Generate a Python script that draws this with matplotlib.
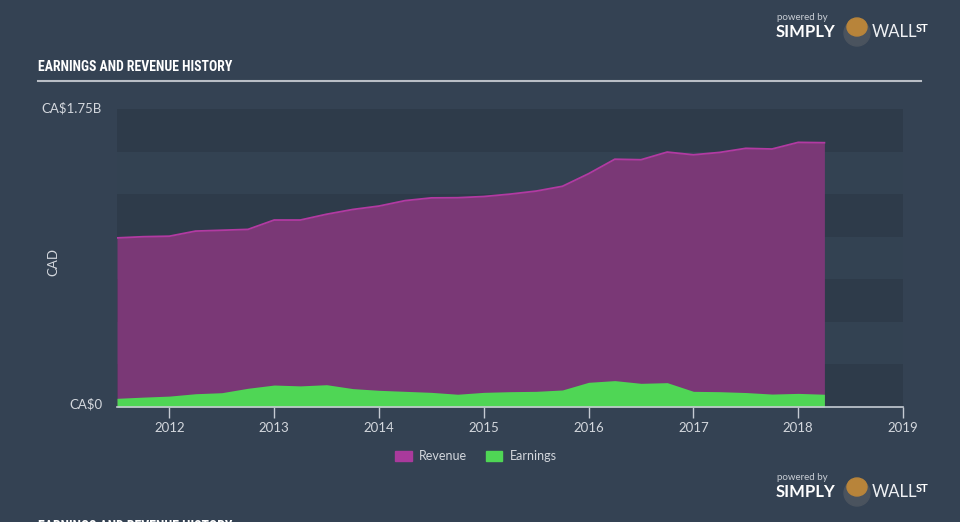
import matplotlib.pyplot as plt
import matplotlib.patches as mpatches
from matplotlib import font_manager as fm
import numpy as np

# quarterly data (fiscal year as decimal), values in CA$ billions
dates = [2011.5, 2011.75, 2012.0, 2012.25, 2012.5, 2012.75, 2013.0, 2013.25,
         2013.5, 2013.75, 2014.0, 2014.25, 2014.5, 2014.75, 2015.0, 2015.25,
         2015.5, 2015.75, 2016.0, 2016.25, 2016.5, 2016.75, 2017.0, 2017.25,
         2017.5, 2017.75, 2018.0, 2018.25]
revenue = [0.993, 1.000, 1.003, 1.033, 1.038, 1.043, 1.098, 1.098,
           1.132, 1.160, 1.180, 1.212, 1.228, 1.229, 1.236, 1.250,
           1.268, 1.296, 1.370, 1.455, 1.452, 1.497, 1.481, 1.495,
           1.519, 1.515, 1.554, 1.552]
earnings = [0.051, 0.058, 0.064, 0.078, 0.084, 0.110, 0.129, 0.124,
            0.131, 0.108, 0.098, 0.092, 0.086, 0.075, 0.086, 0.090,
            0.092, 0.100, 0.145, 0.155, 0.139, 0.143, 0.092, 0.090,
            0.085, 0.076, 0.080, 0.075]
years = [2012, 2013, 2014, 2015, 2016, 2017, 2018, 2019]
title = 'EARNINGS AND REVENUE HISTORY'

bg = '#344253'
txt = '#d3d7dd'
rev_fill = '#7a3876'
rev_line = '#b23aa2'
earn_col = '#4fd655'

# pick a narrow font for the title if one is installed
names = {f.name for f in fm.fontManager.ttflist}
title_family = 'DejaVu Sans'
for cand in ['Liberation Sans Narrow', 'Roboto Condensed', 'Open Sans Condensed']:
    if cand in names:
        title_family = cand
        break

fig = plt.figure(figsize=(9.6, 5.22), dpi=100)
fig.patch.set_facecolor(bg)

ax = fig.add_axes([117/960, 1 - 407/522, (903-117)/960, (407-109)/522])
ax.set_facecolor(bg)
ax.set_xlim(2011.5, 2019.0)
ax.set_ylim(0, 1.75)

# striped background bands
for i in range(7):
    c = '#2e3b4a' if i % 2 == 0 else '#334252'
    ax.axhspan(i*0.25, (i+1)*0.25, color=c, lw=0, zorder=0)

ax.fill_between(dates, revenue, color=rev_fill, lw=0, zorder=2)
ax.plot(dates, revenue, color=rev_line, lw=1.3, zorder=3)
ax.fill_between(dates, earnings, color=earn_col, lw=0, zorder=4)

for s in ['top', 'right', 'left']:
    ax.spines[s].set_visible(False)
ax.spines['bottom'].set_color('#c5cbd3')
ax.spines['bottom'].set_linewidth(1.2)
ax.spines['bottom'].set_zorder(5)

ax.set_xticks(years)
ax.set_xticklabels([str(y) for y in years], fontsize=9.5, color=txt, family='Lato')
ax.tick_params(axis='x', length=8, width=1, color='#c5cbd3', pad=3)
ax.set_yticks([])

t1 = fig.text(38/960, 1 - 67/522, title, color='white', fontsize=11,
              fontweight='bold', family=title_family, fontstretch='condensed',
              va='center', ha='left')
t2 = fig.text(38/960, 1 - 527/522, title, color='white', fontsize=11,
              fontweight='bold', family=title_family, fontstretch='condensed',
              va='center', ha='left')
# shrink the title so it spans about 195 px like the reference
r = fig.canvas.get_renderer()
w = t1.get_window_extent(r).width
fs = max(8.0, min(11.0, 11.0 * 195 / w))
t1.set_fontsize(fs)
t2.set_fontsize(fs)

fig.add_artist(plt.Line2D([38/960, 921/960], [1 - 81/522, 1 - 81/522],
                          color='#b9bec6', lw=1.5))

fig.text(102/960, 1 - 108/522, 'CA$1.75B', color=txt, fontsize=9.5,
         family='Lato', ha='right', va='center')
fig.text(102/960, 1 - 404/522, 'CA$0', color=txt, fontsize=9.5,
         family='Lato', ha='right', va='center')
fig.text(53/960, 1 - 262/522, 'CAD', color=txt, fontsize=9.5, family='Lato',
         rotation=90, ha='center', va='center')

# legend
handles = [mpatches.Patch(color='#a93a9c', label='Revenue'),
           mpatches.Patch(color=earn_col, label='Earnings')]
leg = fig.legend(handles=handles, loc='center', bbox_to_anchor=(476/960, 1 - 456/522),
                 ncol=2, frameon=False, fontsize=9, handlelength=1.3,
                 handleheight=0.9, columnspacing=1.5, handletextpad=0.6)
for t in leg.get_texts():
    t.set_color(txt)
    t.set_family('Lato')

# branding
for ytop in [18, 478]:
    fig.text(777/960, 1 - ytop/522, 'powered by', color='#c9ced5', fontsize=7,
             family='Lato', ha='left', va='center')
    fig.text(776/960, 1 - (ytop + 14)/522, 'SIMPLY', color='white', fontsize=12,
             fontweight='bold', family='Lato', ha='left', va='center')
    fig.text(872/960, 1 - (ytop + 14)/522, 'WALL', color='#eef0f3', fontsize=12,
             family='Lato', ha='left', va='center')
    fig.text(916/960, 1 - (ytop + 10)/522, 'ST', color='white', fontsize=8,
             fontweight='bold', family='Lato', ha='left', va='center')
    fig.add_artist(mpatches.Ellipse((857/960, 1 - (ytop + 15)/522), 26/960, 26/522,
                                    transform=fig.transFigure, color='#4a535e'))
    fig.add_artist(mpatches.Ellipse((857/960, 1 - (ytop + 9)/522), 20/960, 18/522,
                                    transform=fig.transFigure, color='#b8843a'))

fig.savefig('out.png', dpi=100, facecolor=fig.get_facecolor())
